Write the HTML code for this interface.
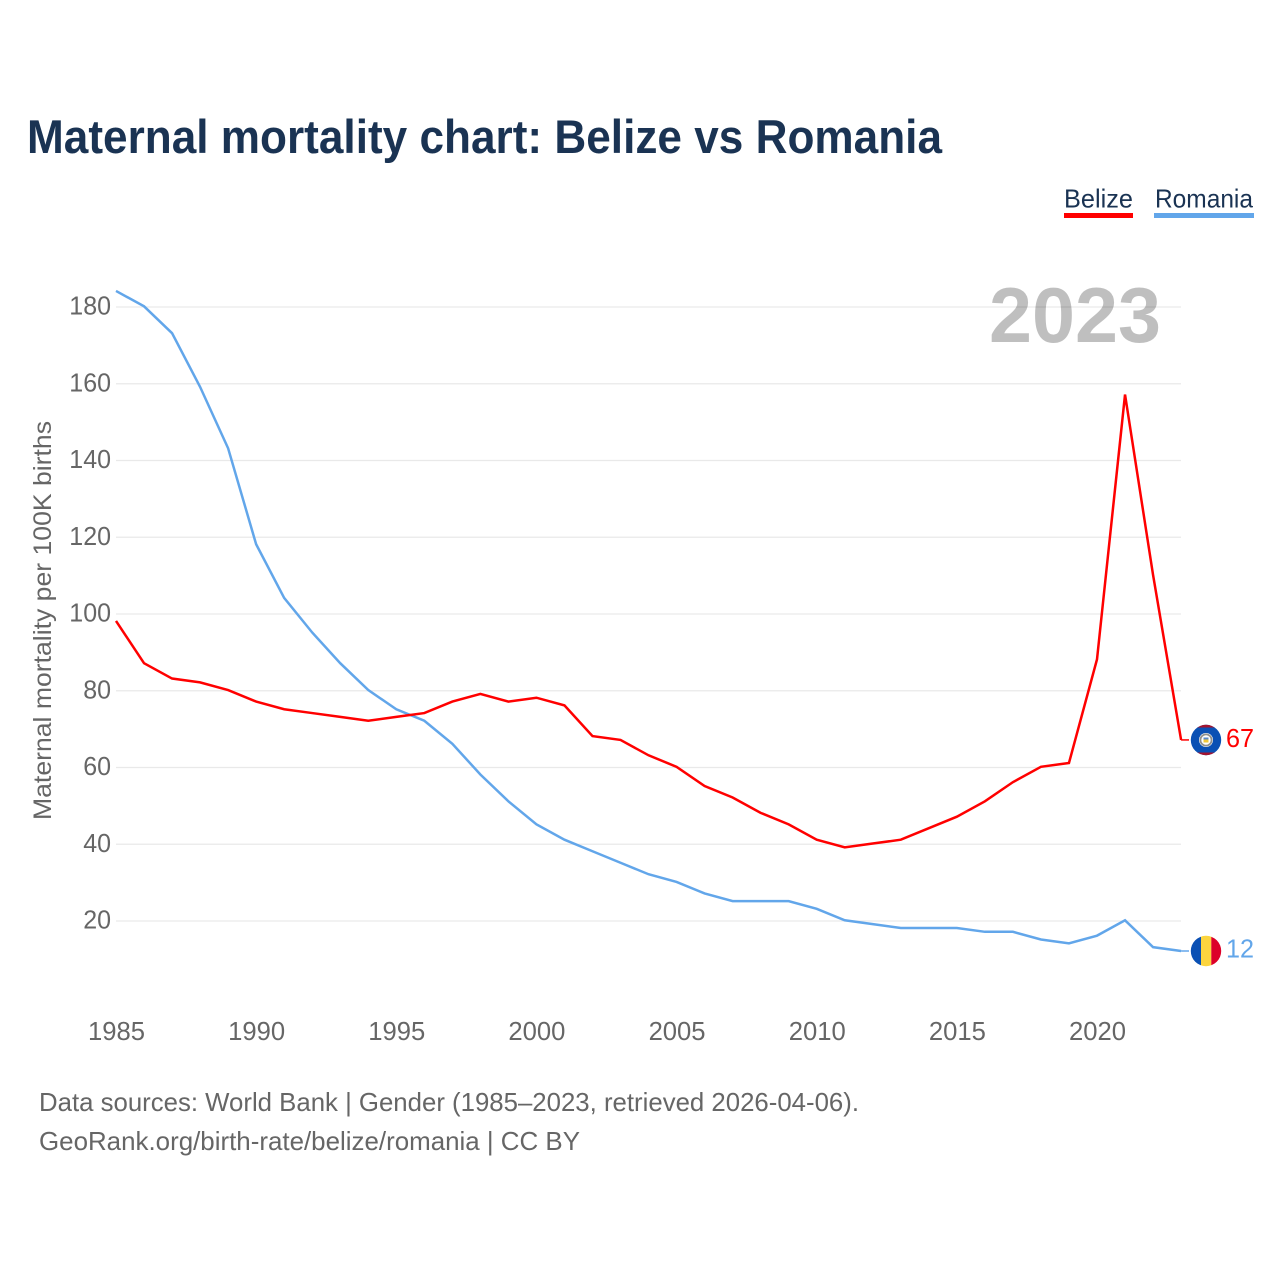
<!DOCTYPE html>
<html lang="en">
<head>
<meta charset="utf-8">
<title>Maternal mortality chart: Belize vs Romania</title>
<style>
  html, body { margin: 0; padding: 0; background: #fff; }
  svg { display: block; font-family: "Liberation Sans", sans-serif; }
</style>
</head>
<body>
<svg id="chart" xmlns="http://www.w3.org/2000/svg" width="1280" height="1280" viewBox="0 0 1280 1280">
  <defs>
    <clipPath id="belize-clip"><circle cx="1206" cy="740" r="15.2"/></clipPath>
    <clipPath id="romania-clip"><circle cx="1206" cy="951" r="15.2"/></clipPath>
  </defs>
  <rect width="1280" height="1280" fill="#ffffff"/>
  <text x="27" y="153" font-size="47" font-weight="700" fill="#1a3353" textLength="915" lengthAdjust="spacingAndGlyphs">Maternal mortality chart: Belize vs Romania</text>

  <g id="grid"></g>
  <g id="y-ticks"></g>
  <g id="x-ticks"></g>

  <text transform="translate(51 820) rotate(-90)" font-size="25" fill="#666666" textLength="399" lengthAdjust="spacingAndGlyphs">Maternal mortality per 100K births</text>

  <text x="989" y="342" font-size="78" font-weight="700" fill="#000000" fill-opacity="0.25" textLength="172" lengthAdjust="spacingAndGlyphs">2023</text>

  <g id="series" transform="translate(0 -0.7)"></g>

  <g>
    <g>
      <text x="1064" y="207.5" font-size="26" fill="#1a3353" textLength="69" lengthAdjust="spacingAndGlyphs">Belize</text>
      <rect x="1064" y="213" width="69" height="5" fill="#ff0000"/>
    </g>
    <g>
      <text x="1155" y="207.5" font-size="26" fill="#1a3353" textLength="98" lengthAdjust="spacingAndGlyphs">Romania</text>
      <rect x="1154" y="213" width="100" height="5" fill="#62a6ea"/>
    </g>
  </g>

  <g id="flag-belize">
    <g clip-path="url(#belize-clip)">
      <rect x="1190" y="724" width="32" height="32" fill="#0a50b4"/>
      <rect x="1190" y="724" width="32" height="3.5" fill="#a3142f"/>
      <rect x="1190" y="752.5" width="32" height="3.5" fill="#a3142f"/>
    </g>
    <circle cx="1206" cy="740" r="7" fill="#ffffff"/>
    <circle cx="1206" cy="740" r="5.6" fill="none" stroke="#8f8f8b" stroke-width="1.8"/>
    <rect x="1203.5" y="737.5" width="5" height="2" fill="#5a88c8"/>
    <rect x="1203.5" y="739.5" width="5" height="3" fill="#f2c838"/>
  </g>
  <g id="flag-romania">
    <g clip-path="url(#romania-clip)">
      <rect x="1190" y="935" width="11" height="32" fill="#0a50b4"/>
      <rect x="1201" y="935" width="10.3" height="32" fill="#fcd53f"/>
      <rect x="1211.3" y="935" width="11" height="32" fill="#dc0029"/>
    </g>
  </g>

  <g id="end-labels"></g>

  <text x="39" y="1111" font-size="26" fill="#666666" textLength="820" lengthAdjust="spacingAndGlyphs">Data sources: World Bank | Gender (1985–2023, retrieved 2026-04-06).</text>
  <text x="39" y="1150" font-size="26" fill="#666666" textLength="541" lengthAdjust="spacingAndGlyphs">GeoRank.org/birth-rate/belize/romania | CC BY</text>
</svg>
<script>
const years = [1985,1986,1987,1988,1989,1990,1991,1992,1993,1994,1995,1996,1997,1998,1999,2000,2001,2002,2003,2004,2005,2006,2007,2008,2009,2010,2011,2012,2013,2014,2015,2016,2017,2018,2019,2020,2021,2022,2023];
const belizeValues = [98,87,83,82,80,77,75,74,73,72,73,74,77,79,77,78,76,68,67,63,60,55,52,48,45,41,39,40,41,44,47,51,56,60,61,88,157,110,67];
const romaniaValues = [184,180,173,159,143,118,104,95,87,80,75,72,66,58,51,45,41,38,35,32,30,27,25,25,25,23,20,19,18,18,18,17,17,15,14,16,20,13,12];
const yTickValues = [20,40,60,80,100,120,140,160,180];
const xTickValues = [1985,1990,1995,2000,2005,2010,2015,2020];

const NS = 'http://www.w3.org/2000/svg';
function xScale(year) { return 116 + (year - 1985) * (1097 - 116) / 35; }
function yScale(value) { return 921 - (value - 20) * (921 - 307) / 160; }
function make(tag, parent) {
  const el = document.createElementNS(NS, tag);
  parent.appendChild(el);
  return el;
}

const gridGroup = document.getElementById('grid');
const yTickGroup = document.getElementById('y-ticks');
yTickValues.forEach(function (v) {
  const line = make('line', gridGroup);
  
  
  line.setAttribute('x1', 116);
  line.setAttribute('x2', 1181);
  line.setAttribute('y1', yScale(v));
  line.setAttribute('y2', yScale(v));
  line.setAttribute('stroke', '#e9e9e9');
  line.setAttribute('stroke-width', 1.3);

  const label = make('text', yTickGroup);
  
  
  const str = String(v);
  const w = str.length * 13.9;
  label.setAttribute('x', 111 - w);
  label.setAttribute('y', yScale(v) + 7.5);
  label.setAttribute('font-size', 26);
  label.setAttribute('fill', '#666666');
  label.setAttribute('textLength', w);
  label.setAttribute('lengthAdjust', 'spacingAndGlyphs');
  label.textContent = str;
});

const xTickGroup = document.getElementById('x-ticks');
xTickValues.forEach(function (yr) {
  const label = make('text', xTickGroup);
  
  
  label.setAttribute('x', xScale(yr) - 28);
  label.setAttribute('y', 1040);
  label.setAttribute('font-size', 26);
  label.setAttribute('fill', '#666666');
  label.setAttribute('textLength', 57);
  label.setAttribute('lengthAdjust', 'spacingAndGlyphs');
  label.textContent = String(yr);
});

const seriesGroup = document.getElementById('series');
const endGroup = document.getElementById('end-labels');

function pathFor(values) {
  return values.map(function (v, i) {
    return (i ? 'L' : 'M') + xScale(years[i]).toFixed(2) + ' ' + yScale(v).toFixed(2);
  }).join(' ');
}

const romaniaLine = make('path', seriesGroup);


romaniaLine.setAttribute('d', pathFor(romaniaValues));
romaniaLine.setAttribute('fill', 'none');
romaniaLine.setAttribute('stroke', '#62a6ea');
romaniaLine.setAttribute('stroke-width', 2.5);

const belizeLine = make('path', seriesGroup);


belizeLine.setAttribute('d', pathFor(belizeValues));
belizeLine.setAttribute('fill', 'none');
belizeLine.setAttribute('stroke', '#ff0000');
belizeLine.setAttribute('stroke-width', 2.5);

const lastIndex = years.length - 1;

const belizeConnector = make('line', seriesGroup);


belizeConnector.setAttribute('x1', xScale(years[lastIndex]));
belizeConnector.setAttribute('x2', 1189);
belizeConnector.setAttribute('y1', yScale(belizeValues[lastIndex]));
belizeConnector.setAttribute('y2', yScale(belizeValues[lastIndex]));
belizeConnector.setAttribute('stroke', '#ff0000');
belizeConnector.setAttribute('stroke-width', 1.5);

const romaniaConnector = make('line', seriesGroup);


romaniaConnector.setAttribute('x1', xScale(years[lastIndex]));
romaniaConnector.setAttribute('x2', 1189);
romaniaConnector.setAttribute('y1', yScale(romaniaValues[lastIndex]));
romaniaConnector.setAttribute('y2', yScale(romaniaValues[lastIndex]));
romaniaConnector.setAttribute('stroke', '#62a6ea');
romaniaConnector.setAttribute('stroke-width', 1.5);

const belizeEnd = make('text', endGroup);


belizeEnd.setAttribute('x', 1226);
belizeEnd.setAttribute('y', yScale(belizeValues[lastIndex]) + 6.4);
belizeEnd.setAttribute('font-size', 26);
belizeEnd.setAttribute('fill', '#ff0000');
belizeEnd.setAttribute('textLength', 28);
belizeEnd.setAttribute('lengthAdjust', 'spacingAndGlyphs');
belizeEnd.textContent = String(belizeValues[lastIndex]);

const romaniaEnd = make('text', endGroup);


romaniaEnd.setAttribute('x', 1226);
romaniaEnd.setAttribute('y', yScale(romaniaValues[lastIndex]) + 6);
romaniaEnd.setAttribute('font-size', 26);
romaniaEnd.setAttribute('fill', '#62a6ea');
romaniaEnd.setAttribute('textLength', 28);
romaniaEnd.setAttribute('lengthAdjust', 'spacingAndGlyphs');
romaniaEnd.textContent = String(romaniaValues[lastIndex]);
</script>
</body>
</html>
